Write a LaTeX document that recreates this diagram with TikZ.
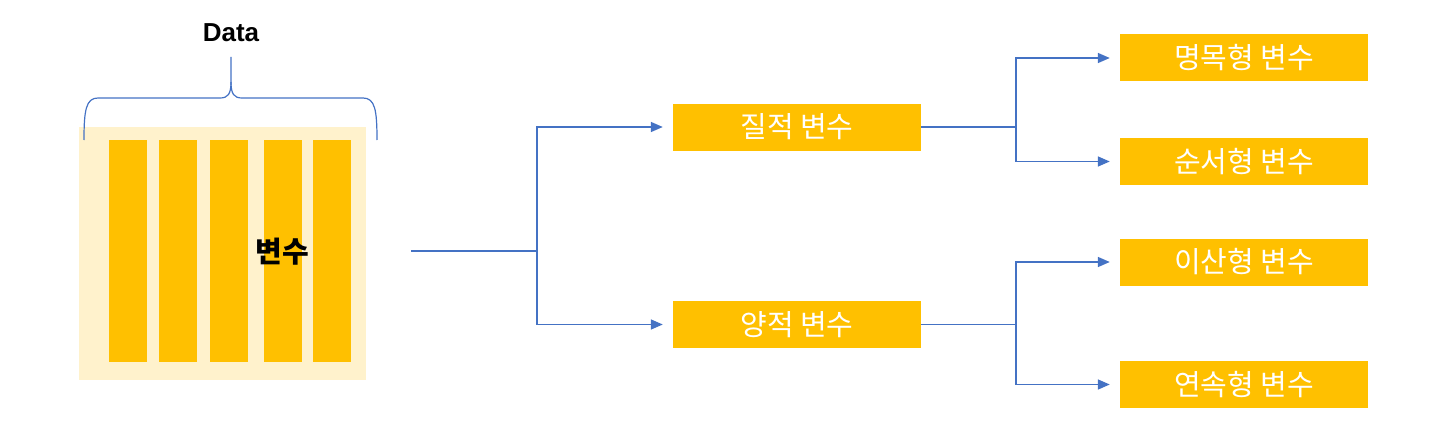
\documentclass[tikz,border=0pt]{standalone}
\usepackage{fontspec}
\setmainfont{Liberation Sans}
\newfontfamily\krfont{Noto Sans CJK KR}
\usepackage{tikz}
\usetikzlibrary{arrows.meta}
\definecolor{boxorange}{HTML}{FFC000}
\definecolor{boxlight}{HTML}{FFF2CC}
\definecolor{linkblue}{HTML}{4472C4}

\begin{document}
\begin{tikzpicture}[x=1pt, y=-1pt,
        kind/.style={fill=boxorange, text=white, minimum width=248pt, minimum height=47pt,
            inner sep=0pt, font=\krfont\fontsize{29}{32}\selectfont},
        link/.style={draw=linkblue, line width=1.6pt},
        arrow/.style={link, -{Triangle[length=12pt,width=10pt]}, shorten >=10pt}]
        \useasboundingbox (0,0) rectangle (1438,444);

        % Data block
        \fill[boxlight] (79,127) rectangle (366,380);
        \foreach \x in {109,159,210,264,313}
            \fill[boxorange] (\x,140) rectangle ++(38,222);
        \node[font=\krfont\bfseries\fontsize{29}{32}\selectfont] (var) at (282,252) {변수};

        % Brace
        \draw[link, line width=1.2pt] (84,140) .. controls (84,110) and (86,98) .. (98,98)
            -- (220,98) .. controls (228,98) and (231,94) .. (231,82) -- (231,57);
        \draw[link, line width=1.2pt] (377,140) .. controls (377,110) and (375,98) .. (363,98)
            -- (242,98) .. controls (234,98) and (231,94) .. (231,82);
        \node[font=\bfseries\fontsize{26}{30}\selectfont] (data) at (231,33) {Data};

        % Kinds
        \node[kind] (qual) at (797,127) {질적 변수};
        \node[kind] (quant) at (797,324.5) {양적 변수};
        \node[kind] (nominal) at (1244,58) {명목형 변수};
        \node[kind] (ordinal) at (1244,161.5) {순서형 변수};
        \node[kind] (discrete) at (1244,262) {이산형 변수};
        \node[kind] (continuous) at (1244,384.5) {연속형 변수};

        % Links
        \coordinate (src) at (411,251);
        \coordinate (split) at (537,251);
        \draw[link] (src) -- (split);
        \draw[arrow] (split) |- (qual);
        \draw[arrow] (split) |- (quant);
        \draw[arrow] (qual.east) -- ++(95,0) |- (nominal);
        \draw[arrow] (qual.east) -- ++(95,0) |- (ordinal);
        \draw[arrow] (quant.east) -- ++(95,0) |- (discrete);
        \draw[arrow] (quant.east) -- ++(95,0) |- (continuous);
    \end{tikzpicture}
\end{document}
